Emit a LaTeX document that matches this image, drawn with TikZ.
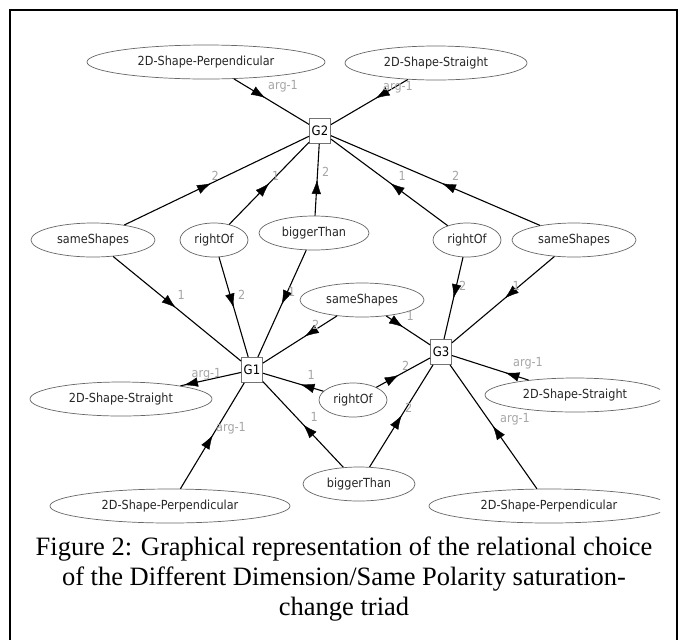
\documentclass[tikz,border=0pt]{standalone}
\usepackage{fontspec}
\setmainfont{Liberation Serif}
\newfontfamily\graphfont[FakeStretch=0.9]{DejaVu Sans}
\usetikzlibrary{shapes, calc, arrows.meta, decorations.markings}

\tikzset{
	concept/.style={draw=black!60, line width=0.7pt, ellipse, inner sep=0pt,
		minimum height=34pt, text=black!85,
		font=\graphfont\fontsize{12.5}{14}\selectfont},
	gbox/.style={draw=black!55, line width=0.9pt, fill=white, rectangle,
		minimum width=21pt, minimum height=25pt, inner sep=0pt,
		font=\graphfont\fontsize{13}{15}\selectfont},
	link/.style={line width=1.1pt, black},
	midarrow/.style={decoration={markings,
		mark=at position 0.52 with {\arrow{Latex[length=14pt, width=9.5pt]}}},
		postaction={decorate}},
	argnum/.style={anchor=west, xshift=5pt, yshift=10pt, inner sep=0pt,
		text=black!35, font=\graphfont\fontsize{12.5}{14}\selectfont},
	caption/.style={align=center, inner sep=0pt,
		font=\fontsize{26.5}{30}\selectfont},
}

% edge with arrow in the middle, pointing to #2
\newcommand{\conn}[3]{%
	\draw[link] (#1) -- (#2);
	\path[midarrow] (#1.center) -- (#2.center)
		node[argnum, pos=0.5] (#1#2) {#3};
}

\begin{document}
\begin{tikzpicture}[x=1pt, y=-1pt]
	\path[fill=white] (0,0) rectangle (682,634);
	\draw[line width=2pt] (10,640) -- (10,10) -- (677,10) -- (677,640);

	\begin{scope}
	\clip (0,0) rectangle (660,530);

	\node[concept, minimum width=238pt] (perpTop)  at (206,62)
		{2D-Shape-Perpendicular};
	\node[concept, minimum width=182pt] (straightTop) at (436,63)
		{2D-Shape-Straight};
	\node[gbox] (gTwo) at (320,131) {G2};

	\node[concept, minimum width=124pt] (sameLeft)   at (93,240)  {sameShapes};
	\node[concept, minimum width=68pt]  (rightLeft)  at (214,240) {rightOf};
	\node[concept, minimum width=110pt] (biggerTop)  at (314,233) {biggerThan};
	\node[concept, minimum width=68pt]  (rightRight) at (467,240) {rightOf};
	\node[concept, minimum width=124pt] (sameRight)  at (574,240) {sameShapes};
	\node[concept, minimum width=124pt] (sameMid)    at (362,300) {sameShapes};

	\node[gbox] (gOne)   at (252,370) {G1};
	\node[gbox] (gThree) at (441,352) {G3};

	\node[concept, minimum width=68pt]  (rightMid)  at (353,400) {rightOf};
	\node[concept, minimum width=182pt] (straightLeft) at (121,399)
		{2D-Shape-Straight};
	\node[concept, minimum width=180pt] (straightRight) at (575,395)
		{2D-Shape-Straight};
	\node[concept, minimum width=240pt] (perpLeft)  at (170,506)
		{2D-Shape-Perpendicular};
	\node[concept, minimum width=112pt] (biggerBot) at (359,484) {biggerThan};
	\node[concept, minimum width=240pt] (perpRight) at (549,506)
		{2D-Shape-Perpendicular};

	% G2
	\conn{perpTop}{gTwo}{arg-1}
	\conn{straightTop}{gTwo}{arg-1}
	\conn{sameLeft}{gTwo}{2}
	\conn{rightLeft}{gTwo}{1}
	\conn{biggerTop}{gTwo}{2}
	\conn{rightRight}{gTwo}{1}
	\conn{sameRight}{gTwo}{2}

	% G1
	\conn{sameLeft}{gOne}{1}
	\conn{rightLeft}{gOne}{2}
	\conn{biggerTop}{gOne}{1}
	\conn{sameMid}{gOne}{2}
	\conn{rightMid}{gOne}{1}
	\conn{gOne}{straightLeft}{arg-1}
	\conn{perpLeft}{gOne}{arg-1}
	\conn{biggerBot}{gOne}{1}

	% G3
	\conn{rightRight}{gThree}{2}
	\conn{sameRight}{gThree}{1}
	\conn{sameMid}{gThree}{1}
	\conn{rightMid}{gThree}{2}
	\conn{straightRight}{gThree}{arg-1}
	\conn{biggerBot}{gThree}{2}
	\conn{perpRight}{gThree}{arg-1}
	\end{scope}

	\node[caption] (cap) at (344,579)
		{Figure 2: Graphical representation of the relational choice\\
		of the Different Dimension/Same Polarity saturation-\\
		change triad};
\end{tikzpicture}
\end{document}
